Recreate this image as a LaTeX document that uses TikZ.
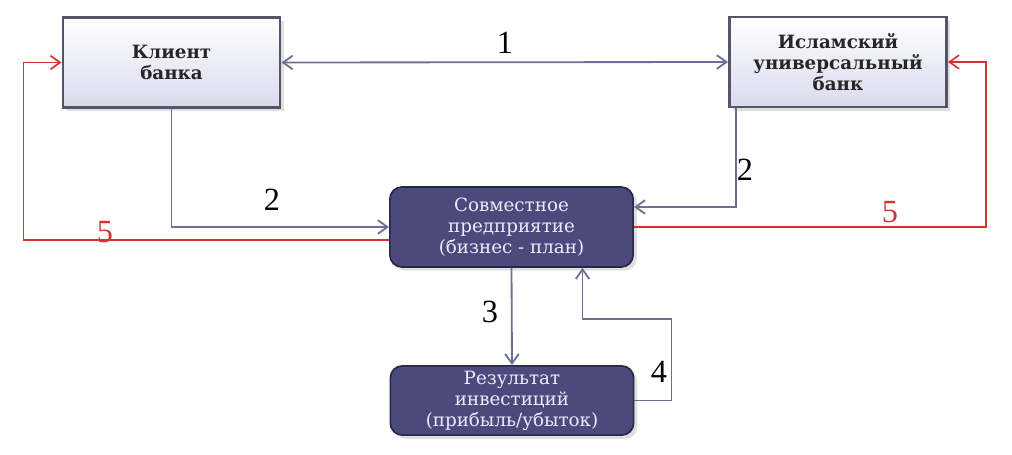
\documentclass[tikz,border=0pt]{standalone}
\usepackage{fontspec}
\setmainfont{DejaVu Serif}
\newfontfamily\digitfont{Liberation Serif}
\usetikzlibrary{arrows.meta,shadows,calc}
\definecolor{linegray}{RGB}{110,110,150}
\definecolor{boxline}{RGB}{85,85,105}
\definecolor{lightbox}{RGB}{218,218,238}
\definecolor{darkbox}{RGB}{74,74,124}
\definecolor{darkline}{RGB}{40,40,70}
\definecolor{redline}{RGB}{215,50,50}

\begin{document}
\begin{tikzpicture}[x=0.025cm,y=-0.025cm,
  >={Straight Barb[length=2.4mm,width=3.4mm]},
  party/.style={draw=boxline,line width=1.9pt,top color=white,bottom color=lightbox,
    drop shadow={opacity=0.25},align=center,font=\fontsize{13}{15}\selectfont\bfseries,
    text=black!85,minimum width=5.43cm,minimum height=2.25cm,inner sep=2pt},
  stage/.style={draw=darkline,line width=1.2pt,fill=darkbox,rounded corners=0.3cm,
    drop shadow={opacity=0.25},align=center,text=white!92!blue,
    font=\fontsize{13}{15}\selectfont,minimum width=6.08cm,inner sep=2pt},
  flow/.style={->,draw=linegray,line width=1.3pt},
  back/.style={->,draw=redline,line width=1.2pt},
  num/.style={font=\digitfont\fontsize{23}{24}\selectfont}]
  \useasboundingbox (0,0) rectangle (1012,454);
  \node[party] (client) at (171.5,62.5) {Клиент\\банка};
  \node[party] (bank) at (838,62) {Исламский\\универсальный\\банк};
  \node[stage,minimum height=2.0cm] (venture) at (511.5,227) {Совместное\\предприятие\\(бизнес - план)};
  \node[stage,minimum height=1.73cm] (result) at (512,400.5) {Результат\\инвестиций\\(прибыль/убыток)};
  % connectors
  \draw[flow,<->] (client.east) -- (bank.west);
  \draw[flow] (client.south) |- (venture.west);
  \draw[flow] ($(bank.south west)+(8,0)$) |- ($(venture.east)+(0,-20)$);
  \draw[back] ($(venture.west)+(0,13)$) -| ($(client.west)+(-38,0)$) -- (client.west);
  \draw[back] (venture.east) -| ($(bank.east)+(38,0)$) -- (bank.east);
  \draw[flow] (venture.south) -- (result.north);
  \draw[flow] (result.east) -- ++(37,0) |- ($(venture.south)+(71,51)$) -- ($(venture.south)+(71,0)$);
  % labels
  \node[num] (n1) at (505,43) {1};
  \node[num] (n2a) at (272,200) {2};
  \node[num] (n2b) at (745,170) {2};
  \node[num,text=redline] (n5a) at (105,232) {5};
  \node[num,text=redline] (n5b) at (890,212) {5};
  \node[num] (n3) at (490,312) {3};
  \node[num] (n4) at (659,372) {4};
\end{tikzpicture}
\end{document}
